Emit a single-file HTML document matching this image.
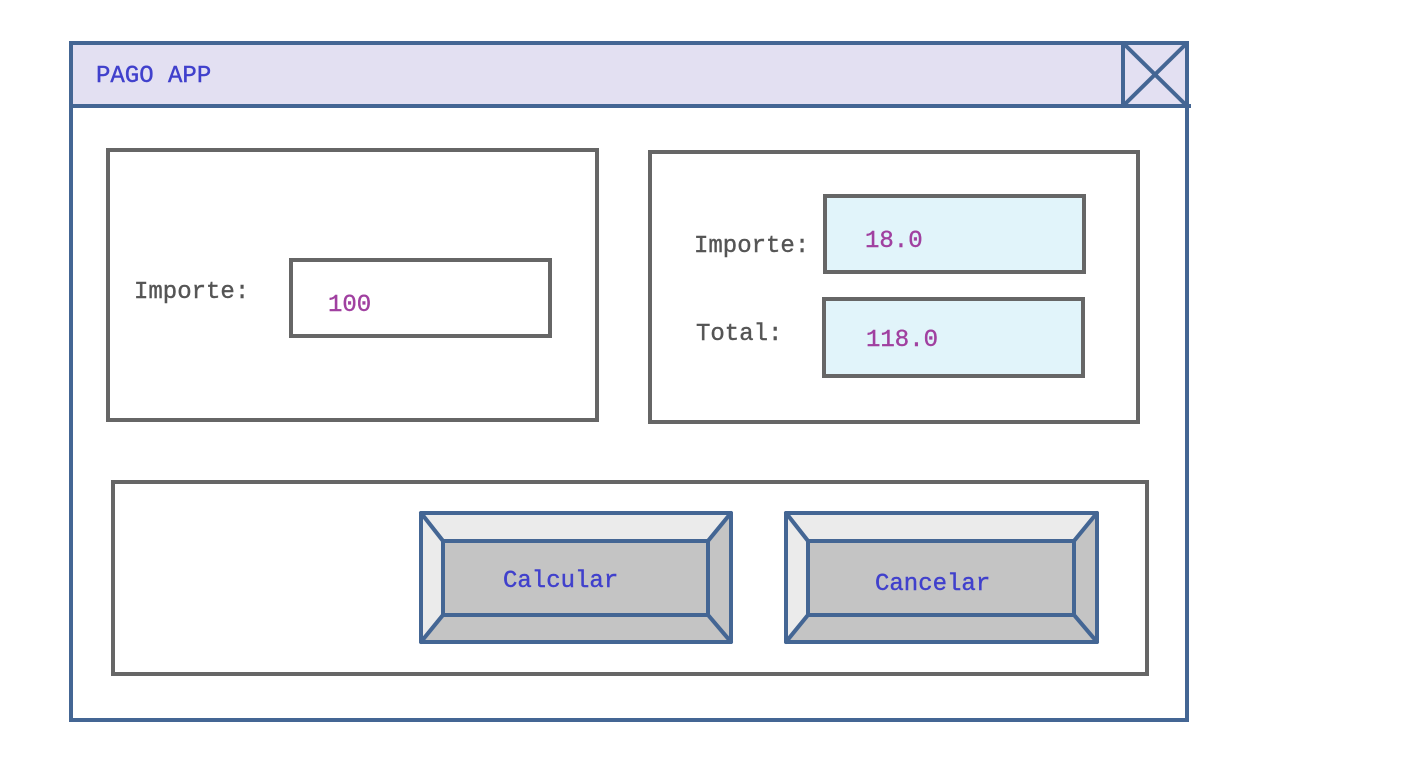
<!DOCTYPE html>
<html><head><meta charset="utf-8"><style>
html,body{margin:0;padding:0;background:#fff;}
svg{display:block;}
text{font-family:"Liberation Mono",monospace;font-size:24px;stroke-width:0.4px;}
</style></head><body>
<svg width="1401" height="782" viewBox="0 0 1401 782" xmlns="http://www.w3.org/2000/svg">
<rect x="71" y="43" width="1116" height="677" fill="#fff" stroke="#446694" stroke-width="4"/>
<rect x="71" y="43" width="1116" height="63" fill="#e3e0f2" stroke="#446694" stroke-width="4"/>
<text x="96" y="82" fill="#4040cc" stroke="#4040cc">PAGO APP</text>
<rect x="1123" y="43" width="64" height="63" fill="#e3e0f2" stroke="#446694" stroke-width="4"/>
<line x1="1123" y1="43" x2="1187" y2="106" stroke="#446694" stroke-width="4"/>
<line x1="1187" y1="43" x2="1123" y2="106" stroke="#446694" stroke-width="4"/>
<line x1="1187" y1="106" x2="1191" y2="106" stroke="#446694" stroke-width="4"/>

<rect x="108" y="150" width="489" height="270" fill="none" stroke="#666" stroke-width="4"/>
<text x="134" y="298" fill="#555" stroke="#555">Importe:</text>
<rect x="291" y="260" width="259" height="76" fill="#fff" stroke="#666" stroke-width="4"/>
<text x="328" y="311" fill="#a040a0" stroke="#a040a0">100</text>

<rect x="650" y="152" width="488" height="270" fill="none" stroke="#666" stroke-width="4"/>
<text x="694" y="252" fill="#555" stroke="#555">Importe:</text>
<rect x="825" y="196" width="259" height="76" fill="#e1f4fa" stroke="#666" stroke-width="4"/>
<text x="865" y="247" fill="#a040a0" stroke="#a040a0">18.0</text>
<text x="696" y="340" fill="#555" stroke="#555">Total:</text>
<rect x="824" y="299" width="259" height="77" fill="#e1f4fa" stroke="#666" stroke-width="4"/>
<text x="866" y="346" fill="#a040a0" stroke="#a040a0">118.0</text>

<rect x="113" y="482" width="1034" height="192" fill="none" stroke="#666" stroke-width="4"/>

<g stroke="#446694" stroke-width="4" stroke-linejoin="round">
<polygon points="421,513 731,513 708,541 443,541" fill="#ebebeb"/>
<polygon points="421,513 443,541 443,615 421,642" fill="#ebebeb"/>
<polygon points="731,513 731,642 708,615 708,541" fill="#c4c4c4"/>
<polygon points="421,642 443,615 708,615 731,642" fill="#c4c4c4"/>
<rect x="443" y="541" width="265" height="74" fill="#c4c4c4"/>
<polygon points="786,513 1097,513 1074,541 808,541" fill="#ebebeb"/>
<polygon points="786,513 808,541 808,615 786,642" fill="#ebebeb"/>
<polygon points="1097,513 1097,642 1074,615 1074,541" fill="#c4c4c4"/>
<polygon points="786,642 808,615 1074,615 1097,642" fill="#c4c4c4"/>
<rect x="808" y="541" width="266" height="74" fill="#c4c4c4"/>
</g>
<text x="503" y="587" fill="#4040cc" stroke="#4040cc">Calcular</text>
<text x="875" y="590" fill="#4040cc" stroke="#4040cc">Cancelar</text>
</svg>
</body></html>
